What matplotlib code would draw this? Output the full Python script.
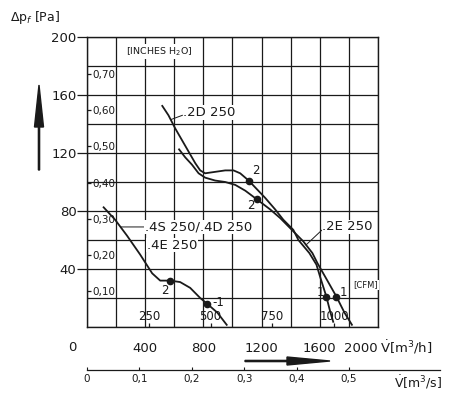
import numpy as np
import matplotlib.pyplot as plt
from matplotlib.patches import FancyArrow

# fan curves: flow [m3/h] against static pressure [Pa]
d2_flow = [514, 560, 606, 652, 698, 744, 778, 812, 881, 950, 1007, 1053, 1111,
           1225, 1294, 1349, 1418, 1453, 1528, 1577, 1604, 1645, 1673, 1694]
d2_pres = [153, 146, 137, 129, 121, 113, 108, 106, 107, 108, 108, 106, 101,
           89, 81, 74, 67, 60, 51, 43, 34, 21, 10, 3]
d2_marks = [12, 21]

e2_flow = [629, 675, 721, 767, 812, 881, 950, 1019, 1088, 1168, 1260, 1329,
           1398, 1487, 1549, 1584, 1652, 1714, 1769, 1824]
e2_pres = [123, 117, 112, 106, 103, 101, 100, 98, 94, 88, 81, 75,
           68, 59, 51, 44, 32, 21, 10, 1]
e2_marks = [9, 17]

s4_flow = [110, 193, 275, 365, 448, 503, 571, 640, 709, 778, 826, 895, 964]
s4_pres = [83, 74, 63, 50, 37, 32, 32, 31, 27, 20, 16, 10, 1]
s4_marks = [6, 10]

x_ticks = [400, 800, 1200, 1600, 2000]
y_ticks = [40, 80, 120, 160, 200]
inch_ticks = [0.1, 0.2, 0.3, 0.4, 0.5, 0.6, 0.7]
cfm_ticks = [250, 500, 750, 1000]
ms_ticks = [0, 0.1, 0.2, 0.3, 0.4, 0.5]

PA_PER_INCH = 249.09
M3H_PER_CFM = 1.699

ink = "#1a1a1a"
plt.rcParams['font.family'] = ['DejaVu Sans']

fig = plt.figure(figsize=(4.55, 3.98), dpi=100)
fig.patch.set_facecolor("white")
ax = fig.add_axes([87 / 455, 71 / 398, 291 / 455, 290 / 398])
ax.set_xlim(0, 2000)
ax.set_ylim(0, 200)
ax.set_axisbelow(True)

ax.set_xticks(np.arange(0, 2001, 200), minor=True)
ax.set_yticks(np.arange(0, 201, 20), minor=True)
ax.grid(which="both", color=ink, lw=0.9)
for s in ax.spines.values():
    s.set_color(ink)
    s.set_linewidth(1.0)

ax.set_xticks(x_ticks)
ax.set_xticklabels([str(v) for v in x_ticks], fontsize=9.5, color=ink)
ax.get_xticklabels()[-1].set_ha("right")
ax.tick_params(axis="x", which="both", length=0, pad=10.5)
ax.set_yticks(y_ticks)
ax.set_yticklabels([str(v) for v in y_ticks], fontsize=9.5, color=ink)
ax.tick_params(axis="y", which="major", length=7, width=0.9, color=ink, pad=0.5)
ax.tick_params(axis="y", which="minor", length=0)
ax.text(-0.052, -0.069, "0", transform=ax.transAxes, fontsize=9.5,
        ha="center", va="center", color=ink)
ax.text(1.006, -0.069, r"$\dot{\mathrm{V}}$[m$^3$/h]", transform=ax.transAxes,
        fontsize=9.5, ha="left", va="center", color=ink)

# inches of water scale inside the left edge
sec = ax.secondary_yaxis(0, functions=(lambda p: p / PA_PER_INCH,
                                       lambda i: i * PA_PER_INCH))
sec.set_yticks(inch_ticks)
sec.set_yticklabels([f"{v:.2f}".replace(".", ",") for v in inch_ticks],
                    fontsize=7.5, color=ink)
sec.tick_params(axis="y", direction="in", length=3, width=0.9, color=ink, pad=-4)
for lbl in sec.get_yticklabels():
    lbl.set_ha("left")
    lbl.set_bbox(dict(facecolor="white", edgecolor="none", pad=0.6))
sec.spines["left"].set_visible(False)
ax.text(496, 190, "[INCHES H$_2$O]", fontsize=6.8, ha="center", va="center",
        color=ink, bbox=dict(facecolor="white", edgecolor="none", pad=0.8))

# CFM scale inside the bottom edge
cfm = ax.secondary_xaxis(0, functions=(lambda q: q / M3H_PER_CFM,
                                       lambda c: c * M3H_PER_CFM))
cfm.set_xticks(cfm_ticks)
cfm.set_xticklabels([str(v) for v in cfm_ticks], fontsize=8.5, color=ink)
cfm.tick_params(axis="x", direction="in", length=3, width=0.9, color=ink, pad=-3)
for lbl in cfm.get_xticklabels():
    lbl.set_va("bottom")
    lbl.set_bbox(dict(facecolor="white", edgecolor="none", pad=0.3))
cfm.spines["bottom"].set_visible(False)
ax.text(1831, 29, "[CFM]", fontsize=6, ha="left", va="center", color=ink,
        bbox=dict(facecolor="white", edgecolor="none", pad=0.5))

# curves
for fl, pr, mk in [(d2_flow, d2_pres, d2_marks), (e2_flow, e2_pres, e2_marks),
                   (s4_flow, s4_pres, s4_marks)]:
    ax.plot(fl, pr, color=ink, lw=1.3, zorder=2.8, solid_capstyle="butt")
    ax.plot([fl[i] for i in mk], [pr[i] for i in mk], "o", color=ink,
            ms=4.5, zorder=2.9)

lab = dict(fontsize=9.5, color=ink, va="center", ha="left",
           bbox=dict(facecolor="white", edgecolor="none", pad=0.5))
arr = dict(arrowstyle="-", color=ink, lw=0.7, shrinkA=0, shrinkB=0)

y_hit = 143
ax.annotate(".2D 250", xy=(np.interp(y_hit, d2_pres[11::-1], d2_flow[11::-1]), y_hit),
            xytext=(661, 148), arrowprops=dict(arr, relpos=(0, 0.3)), **lab)
y_hit = 56.6
ax.annotate(".2E 250", xy=(np.interp(y_hit, e2_pres[::-1], e2_flow[::-1]), y_hit),
            xytext=(1618, 69), arrowprops=dict(arr, relpos=(0, 0.3)), **lab)
y_hit = 69
ax.annotate(".4S 250/.4D 250", xy=(np.interp(y_hit, s4_pres[::-1], s4_flow[::-1]), y_hit),
            xytext=(399, 69), arrowprops=dict(arr, relpos=(0, 0.5)), **lab)
ax.text(413, 56.5, ".4E 250", **lab)

small = dict(fontsize=8.5, color=ink, va="center")
ax.text(1135, 108, "2", ha="left", **small)
ax.text(1150, 84, "2", ha="right", **small)
ax.text(560, 25, "2", ha="right", **small)
ax.text(860, 17, "-1", ha="left", **small)
ax.text(1630, 24, "1", ha="right", **small)
ax.text(1740, 24, "1", ha="left", **small)

# flow in m3/s, a separate scale under the chart
ax2 = fig.add_axes([87 / 455, 28 / 398, 353 / 455, 0.0001])
ax2.patch.set_visible(False)
ax2.set_xlim(0, 353 / 291 * 2000 / 3600)
for side in ["left", "right", "top"]:
    ax2.spines[side].set_visible(False)
ax2.spines["bottom"].set_color(ink)
ax2.spines["bottom"].set_linewidth(0.9)
ax2.set_yticks([])
ax2.set_xticks(ms_ticks)
ax2.set_xticklabels(["0"] + [f"{v:.1f}".replace(".", ",") for v in ms_ticks[1:]],
                    fontsize=7.5, color=ink)
ax2.tick_params(axis="x", direction="in", length=2.5, width=0.8, color=ink, pad=3)
fig.text(442 / 455, (398 - 382) / 398, r"$\dot{\mathrm{V}}$[m$^3$/s]", fontsize=9,
         ha="right", va="center", color=ink)

fig.text(10 / 455, (398 - 18) / 398, r"$\Delta$p$_f$ [Pa]", fontsize=9,
         ha="left", va="center", color=ink)

# direction arrows
fig.add_artist(FancyArrow(0.39, (398 - 170) / 100, 0, 0.85, width=0.012,
                          head_width=0.09, head_length=0.42,
                          length_includes_head=True, color=ink,
                          transform=fig.dpi_scale_trans))
fig.add_artist(FancyArrow(2.45, (398 - 361) / 100, 0.85, 0, width=0.012,
                          head_width=0.08, head_length=0.43,
                          length_includes_head=True, color=ink,
                          transform=fig.dpi_scale_trans))

fig.savefig("out.png", dpi=100, facecolor="white")
